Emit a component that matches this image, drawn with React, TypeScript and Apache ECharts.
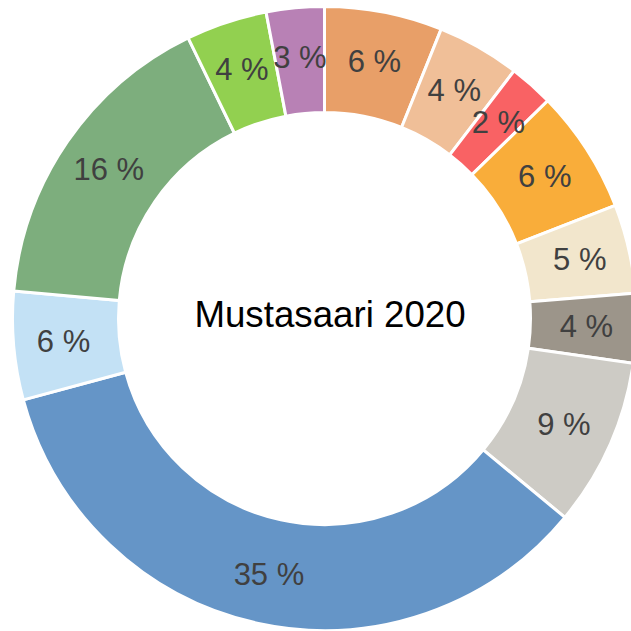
import React, { useEffect, useRef } from "react";
import * as echarts from "echarts";

const categories = [
  "Luokka A", "Luokka B", "Luokka C", "Luokka D", "Luokka E", "Luokka F",
  "Luokka G", "Luokka H", "Luokka I", "Luokka J", "Luokka K", "Luokka L",
];
const shares = [6.1, 4.3, 2.3, 6.4, 4.6, 3.6, 8.7, 34.8, 5.6, 16.4, 4.2, 3.0];
const colors = [
  "#E89F68", "#F0BF98", "#F96264", "#F9AD3A", "#F2E6CC", "#9C958A",
  "#CDCBC5", "#6595C7", "#C3E1F5", "#7DAE7D", "#92D050", "#B881B5",
];
const titleText = "Mustasaari 2020";

export default function App() {
  const ref = useRef<HTMLDivElement>(null);
  useEffect(() => {
    if (!ref.current) return;
    const chart = echarts.init(ref.current, null, { renderer: "svg" });
    chart.setOption({
      animation: false,
      graphic: [
        {
          type: "text",
          x: 330,
          y: 314,
          style: {
            text: titleText,
            fontSize: 36.7,
            fontFamily: "Liberation Sans, Arial, sans-serif",
            fill: "#000000",
            align: "center",
            verticalAlign: "middle",
          },
        },
      ],
      series: [
        {
          type: "pie",
          center: [324.5, 318.5],
          radius: [206, 312],
          startAngle: 90,
          clockwise: true,
          avoidLabelOverlap: false,
          itemStyle: { borderColor: "#ffffff", borderWidth: 3 },
          label: {
            show: true,
            position: "inside",
            fontSize: 31,
            fontFamily: "Liberation Sans, Arial, sans-serif",
            color: "#404040",
            formatter: (p: any) => Math.round(p.percent) + " %",
          },
          labelLine: { show: false },
          emphasis: { disabled: true },
          data: categories.map((name, i) => ({
            name,
            value: shares[i],
            itemStyle: { color: colors[i] },
          })),
        },
      ],
    });
    return () => chart.dispose();
  }, []);
  return (
    <div
      ref={ref}
      style={{ position: "fixed", left: 0, top: 0, width: 631, height: 631, background: "#fff" }}
    />
  );
}
